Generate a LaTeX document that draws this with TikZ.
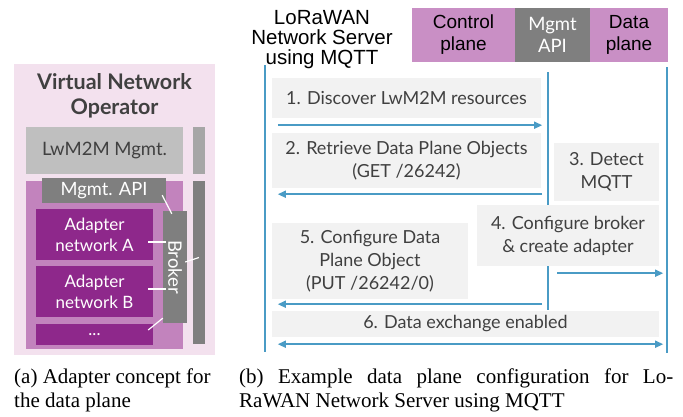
\documentclass[tikz,border=0pt]{standalone}
\usepackage{fontspec}
\setmainfont{Lato}
\newfontfamily\hdfont{Liberation Sans}
\newfontfamily\capfont{Liberation Serif}
\usetikzlibrary{arrows.meta,positioning}

\definecolor{vnopink}{HTML}{F3E1EE}
\definecolor{mgmtgray}{HTML}{BFBFBF}
\definecolor{bargray}{HTML}{A6A6A6}
\definecolor{apigray}{HTML}{7F7F7F}
\definecolor{dppurple}{HTML}{C283BD}
\definecolor{adpurple}{HTML}{8E288B}
\definecolor{planepink}{HTML}{C98FC5}
\definecolor{stepgray}{HTML}{F2F2F2}
\definecolor{txtgray}{HTML}{404040}
\definecolor{seqblue}{HTML}{4A9BC5}

\tikzset{
  blk/.style={inner sep=0pt, align=center},
  sz/.style 2 args={minimum width=#1pt, minimum height=#2pt},
  stepbox/.style={blk, fill=stepgray, text=txtgray, font=\fontsize{18}{23}\selectfont},
  adbox/.style={blk, fill=adpurple, text=white, font=\fontsize{17}{21}\selectfont},
  msg/.style={draw=seqblue, line width=1.5pt, -{Triangle[length=8pt,width=7pt]}},
  life/.style={draw=seqblue, line width=1.2pt},
  link/.style={draw=white, line width=1.2pt},
  captext/.style={anchor=base west, inner sep=0pt, font=\capfont\fontsize{21}{23}\selectfont}
}

\begin{document}
\begin{tikzpicture}[x=1pt,y=-1pt]
  \useasboundingbox (0,0) rectangle (683,416);

  % (a) adapter concept
  \node[blk, sz={201}{291}, fill=vnopink] (vno) at (114.5,209.5) {};
  \node[blk, text=txtgray, font=\bfseries\fontsize{21.5}{25}\selectfont] (vnot) at (114.5,95.5)
    {Virtual Network\\Operator};
  \node[blk, sz={157}{47}, fill=mgmtgray, text=txtgray, font=\fontsize{18.5}{20}\selectfont] (lwm) at (104.5,150.5) {LwM2M Mgmt.};
  \node[blk, sz={12}{47}, fill=bargray] (bar1) at (199,150.5) {};
  \node[blk, sz={157}{168}, fill=dppurple] (dp) at (104.5,265) {};
  \node[blk, sz={12}{163}, fill=apigray] (bar2) at (199,262.5) {};
  \node[blk, sz={124}{25}, fill=apigray, text=white, font=\fontsize{18.3}{20}\selectfont] (api) at (104,190.5) {Mgmt. API};
  \node[blk, sz={24}{112}, fill=apigray] (broker) at (175,267) {};
  \node[text=white, font=\fontsize{18.5}{20}\selectfont, rotate=-90, inner sep=0pt] (brokert) at (broker.center) {Broker};
  \node[adbox, sz={117}{51}] (adA) at (94.5,234.5) {Adapter\\network A};
  \node[adbox, sz={117}{51}] (adB) at (94.5,291.5) {Adapter\\network B};
  \node[adbox, sz={117}{21}] (adC) at (94.5,334.5) {...};

  \draw[link] ([xshift=-4pt,yshift=8pt]api.south east) -- ([xshift=9pt,yshift=-3pt]broker.north west);
  \draw[link] ([xshift=-5pt,yshift=-7.5pt]adA.east) -- +(18,0);
  \draw[link] ([xshift=-5pt,yshift=2.5pt]adB.east) -- +(18,0);
  \draw[link] ([xshift=-5pt,yshift=4.5pt]adC.east) -- ([yshift=5pt]broker.south west);
  \draw[link] ([xshift=-2pt,yshift=5pt]broker.east) -- ([yshift=5pt]bar2.center);

  % (b) sequence
  \node[blk, font=\hdfont\fontsize{20.5}{20}\selectfont] (nsrv) at (322,40) {LoRaWAN\\Network Server\\using MQTT};
  \node[blk, sz={103}{54}, fill=planepink, font=\hdfont\fontsize{19}{22}\selectfont] (cpl) at (463.5,35) {Control\\plane};
  \node[blk, sz={75}{54}, fill=apigray, text=white, font=\fontsize{18.5}{22}\selectfont] (mapi) at (552.5,35) {Mgmt\\API};
  \node[blk, sz={78}{54}, fill=planepink, font=\hdfont\fontsize{19}{22}\selectfont] (dpl) at (629,35) {Data\\plane};

  \coordinate (lsT) at (265,65);  \coordinate (lsB) at (265,352);
  \coordinate (msT) at (548,72);  \coordinate (msB) at (548,310);
  \coordinate (dsT) at (667,67);  \coordinate (dsB) at (667,353);
  \draw[life] (lsT) -- (lsB);
  \draw[life] (msT) -- (msB);
  \draw[life] (dsT) -- (dsB);

  \node[stepbox, sz={269}{40}] (s1) at (406.5,98) {1. Discover LwM2M resources};
  \node[stepbox, sz={269}{55}] (s2) at (406.5,160.5) {2. Retrieve Data Plane Objects\\(GET /26242)};
  \node[stepbox, sz={105}{58}] (s3) at (606.5,172) {3. Detect\\MQTT};
  \node[stepbox, sz={182}{61}] (s4) at (568,235.5) {4. Configure broker\\\& create adapter};
  \node[stepbox, sz={196}{76}] (s5) at (370,261) {5. Configure Data\\Plane Object\\(PUT /26242/0)};
  \node[stepbox, sz={387}{26}] (s6) at (465.5,324) {6. Data exchange enabled};

  \draw[msg] ([xshift=6pt,yshift=-7pt]s1.south west) -- ([xshift=1pt,yshift=-7pt]s1.south east);
  \draw[msg] ([xshift=1pt,yshift=-6pt]s2.south east) -- ([xshift=6pt,yshift=-6pt]s2.south west);
  \draw[msg] ([xshift=-102pt,yshift=-7pt]s4.south east) -- ([xshift=4pt,yshift=-7pt]s4.south east);
  \draw[msg] ([xshift=74pt,yshift=-5pt]s5.south east) -- ([xshift=6pt,yshift=-5pt]s5.south west);
  \draw[msg, {Triangle[length=8pt,width=7pt]}-{Triangle[length=8pt,width=7pt]}]
    ([xshift=6pt,yshift=-7pt]s6.south west) -- ([xshift=4pt,yshift=-7pt]s6.south east);

  % captions
  \node[captext] (capa1) at (14,383) {(a) Adapter concept for};
  \node[captext] (capa2) at (14,407) {the data plane};
  \node[captext] (capb1) at (239,383) {\makebox[434pt][s]{(b) Example data plane configuration for Lo-}};
  \node[captext] (capb2) at (239,407) {RaWAN Network Server using MQTT};
\end{tikzpicture}
\end{document}
